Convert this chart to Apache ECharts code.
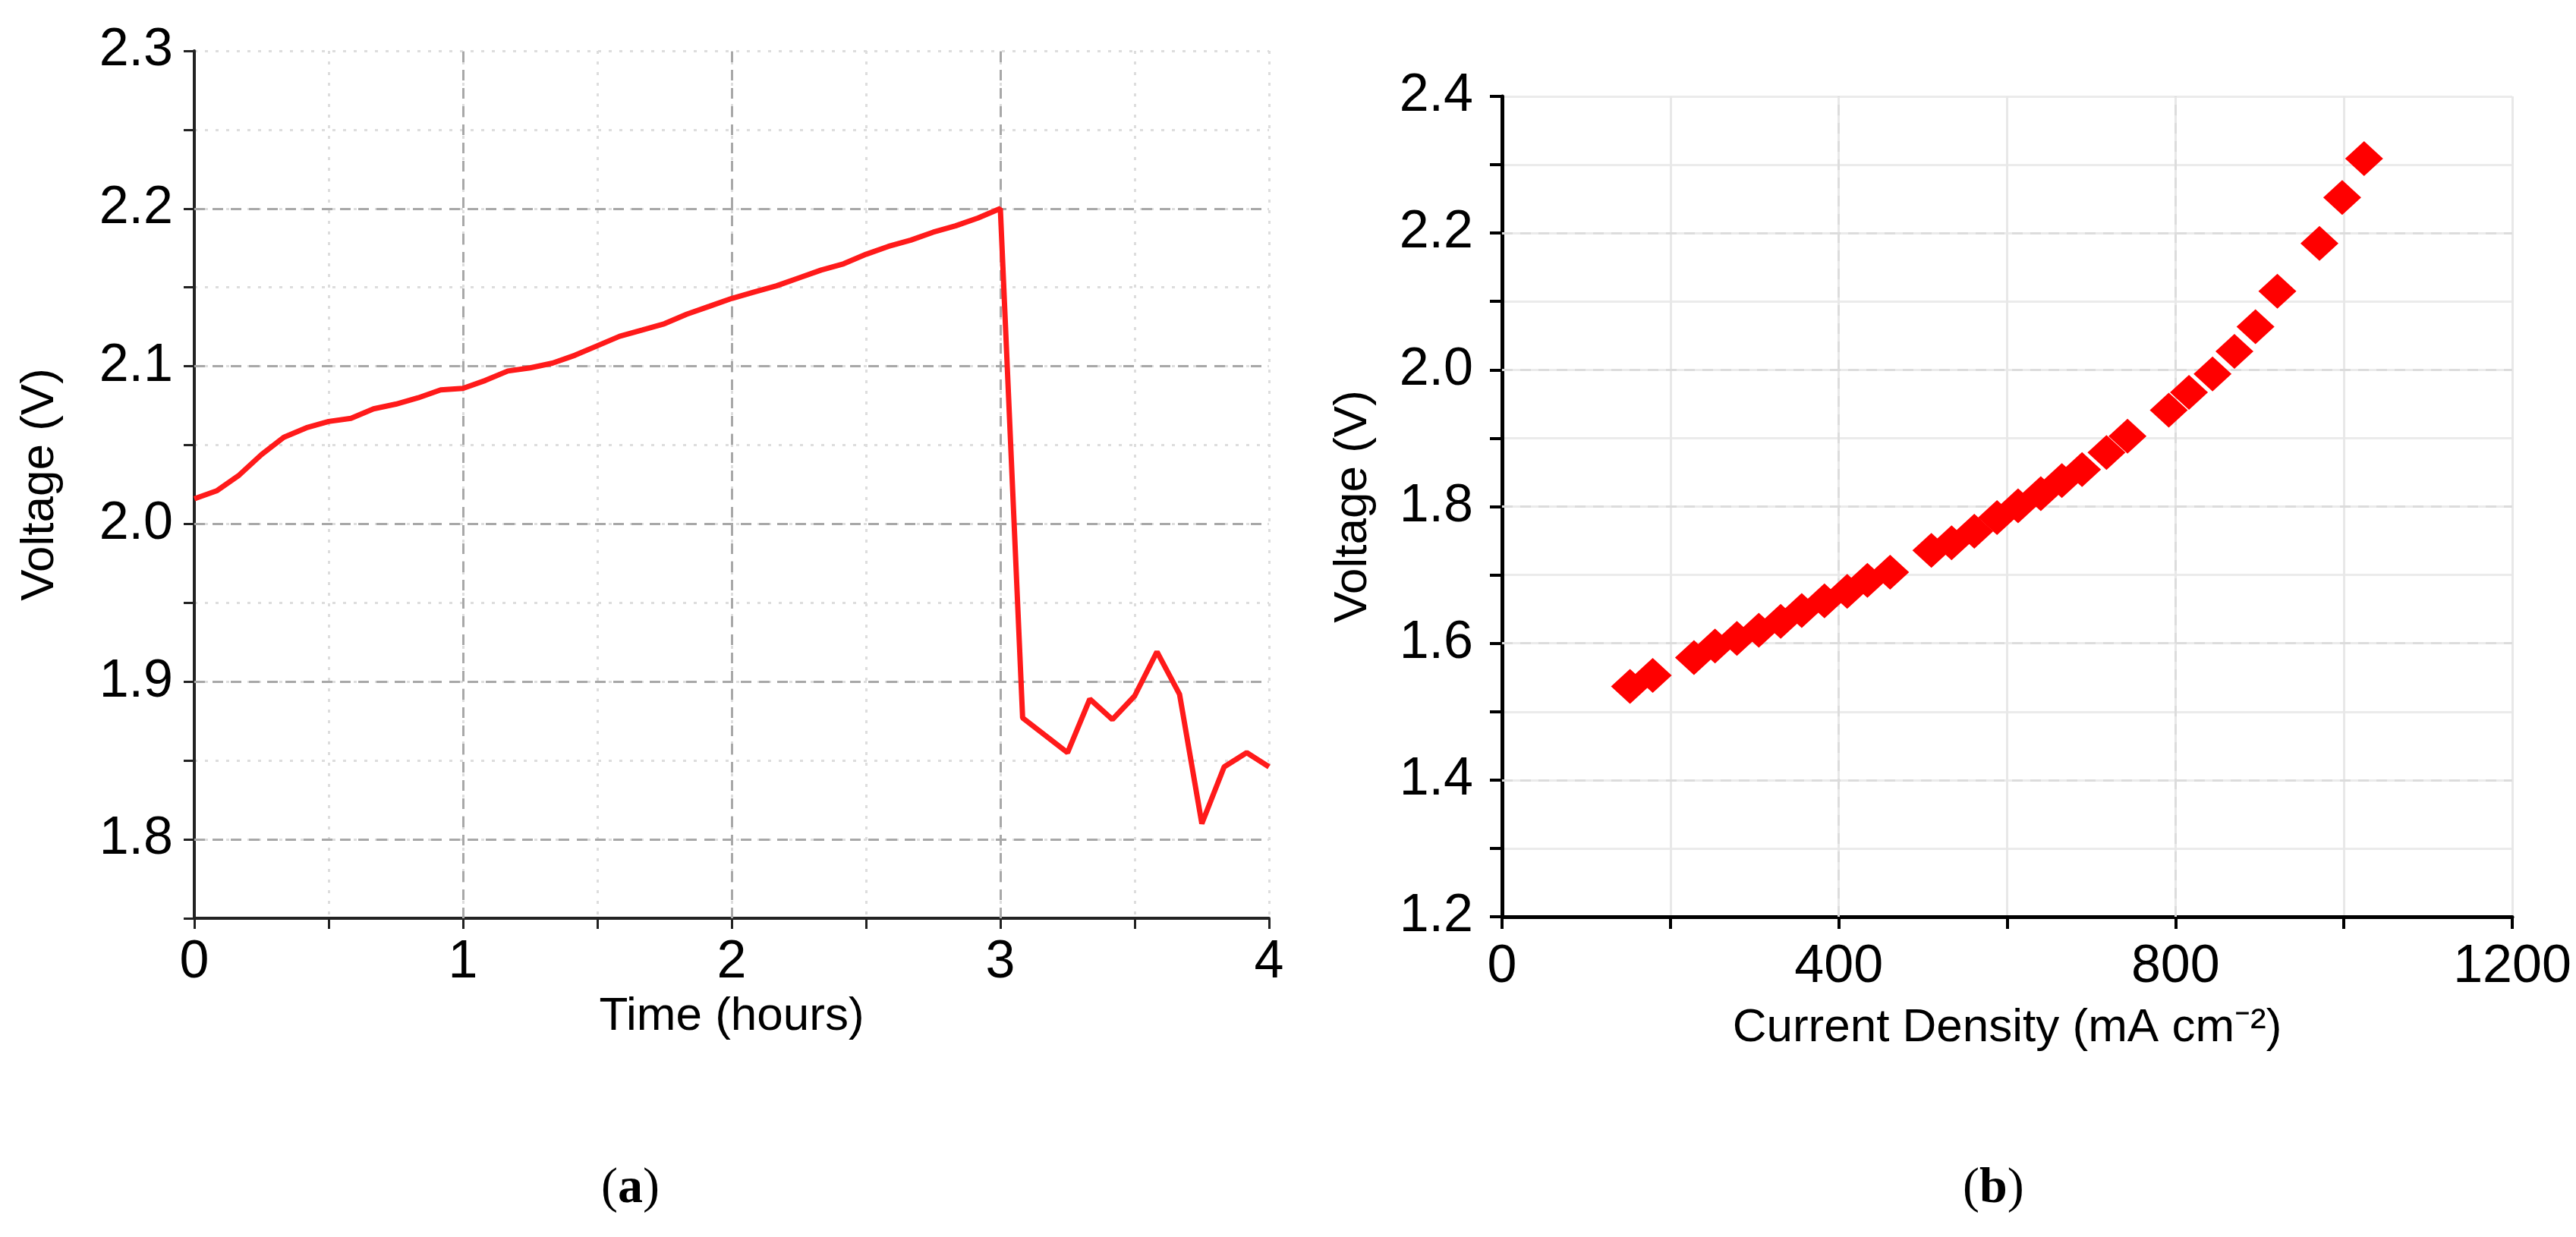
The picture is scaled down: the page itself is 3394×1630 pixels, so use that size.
<!DOCTYPE html>
<html><head><meta charset="utf-8">
<script src="https://cdn.jsdelivr.net/npm/echarts@6/dist/echarts.min.js"></script>
<style>html,body{margin:0;padding:0;background:#fff}#c{width:3394px;height:1630px}</style>
</head><body><div id="c"></div>
<script>
const timeHours = [0,0.083,0.167,0.25,0.333,0.417,0.5,0.583,0.667,0.75,0.833,0.917,1.0,1.083,1.167,1.25,1.333,1.417,1.5,1.583,1.667,1.75,1.833,1.917,2.0,2.083,2.167,2.25,2.333,2.417,2.5,2.583,2.667,2.75,2.833,2.917,3.0,3.083,3.167,3.25,3.333,3.417,3.5,3.583,3.667,3.75,3.833,3.917,4.0];
const voltageA = [2.016,2.021,2.031,2.044,2.055,2.061,2.065,2.067,2.073,2.076,2.080,2.085,2.086,2.091,2.097,2.099,2.102,2.107,2.113,2.119,2.123,2.127,2.133,2.138,2.143,2.147,2.151,2.156,2.161,2.165,2.171,2.176,2.180,2.185,2.189,2.194,2.200,1.877,1.866,1.855,1.889,1.876,1.891,1.919,1.892,1.810,1.846,1.855,1.846];
const currentDensity = [152,179,228,253,279,305,331,356,383,410,434,461,510,534,561,588,613,640,665,689,718,743,792,816,844,870,895,921,971,998,1024];
const voltageB = [1.537,1.553,1.579,1.596,1.607,1.619,1.632,1.648,1.662,1.676,1.692,1.704,1.736,1.747,1.764,1.784,1.801,1.819,1.838,1.854,1.879,1.903,1.941,1.967,1.994,2.027,2.063,2.115,2.185,2.252,2.309];
const majorXA = [1,2,3], majorYA = [1.8,1.9,2.0,2.1,2.2];
const majorXB = [400,800], majorYB = [1.4,1.6,1.8,2.0,2.2];

const F = 'Liberation Sans, Arial, sans-serif';
const tick = {fontSize:70, fontFamily:F, color:'#000'};
const isTenth = v => Math.abs(v*10-Math.round(v*10))<1e-6;
function ml(xs, ys, color){
  return {silent:true, symbol:'none', label:{show:false},
    lineStyle:{color:color, type:[14,10], width:3},
    data: xs.map(x=>({xAxis:x})).concat(ys.map(y=>({yAxis:y})))};
}
const chart = echarts.init(document.getElementById('c'));
const capRich = {b:{font:'bold 66px Liberation Serif, serif', fill:'#000'}, n:{font:'66px Liberation Serif, serif', fill:'#000'}};
chart.setOption({
  animation:false,
  grid:[
    {left:256, right:1722, top:67, bottom:420},
    {left:1979, right:84, top:127, bottom:422}
  ],
  xAxis:[
    {gridIndex:0, type:'value', min:0, max:4, interval:0.5,
     name:'Time (hours)', nameLocation:'middle', nameGap:98,
     nameTextStyle:{fontSize:62, fontFamily:F, color:'#000'},
     axisLine:{lineStyle:{color:'#222', width:4}},
     axisTick:{length:14, lineStyle:{color:'#222', width:3}},
     axisLabel:{...tick, margin:24, formatter:v=>Number.isInteger(v)?String(v):''},
     splitLine:{show:true, lineStyle:{color:'#ddd', type:[4,10], width:3}}},
    {gridIndex:1, type:'value', min:0, max:1200, interval:200,
     name:'Current Density (mA cm⁻²)', nameLocation:'middle', nameGap:116,
     nameTextStyle:{fontSize:62, fontFamily:F, color:'#000'},
     axisLine:{lineStyle:{color:'#000', width:5}},
     axisTick:{length:16, lineStyle:{color:'#000', width:4}},
     axisLabel:{...tick, margin:32, formatter:v=>v%400===0?String(v):''},
     splitLine:{show:true, lineStyle:{color:'#e8e8e8', width:3}}}
  ],
  yAxis:[
    {gridIndex:0, type:'value', min:1.75, max:2.3, interval:0.05,
     name:'Voltage (V)', nameLocation:'middle', nameGap:172,
     nameTextStyle:{fontSize:62, fontFamily:F, color:'#000'},
     axisLine:{show:true, lineStyle:{color:'#222', width:4}},
     axisTick:{show:true, length:14, lineStyle:{color:'#222', width:3}},
     axisLabel:{...tick, margin:28, formatter:v=>isTenth(v)&&v>1.76?v.toFixed(1):''},
     splitLine:{show:true, lineStyle:{color:'#ddd', type:[4,10], width:3}}},
    {gridIndex:1, type:'value', min:1.2, max:2.4, interval:0.1,
     name:'Voltage (V)', nameLocation:'middle', nameGap:165,
     nameTextStyle:{fontSize:62, fontFamily:F, color:'#000'},
     axisLine:{show:true, lineStyle:{color:'#000', width:5}},
     axisTick:{show:true, length:16, lineStyle:{color:'#000', width:4}},
     axisLabel:{...tick, margin:38, formatter:v=>(Math.round(v*10)%2===0)?v.toFixed(1):''},
     splitLine:{show:true, lineStyle:{color:'#ebebeb', width:3}}}
  ],
  series:[
    {type:'line', xAxisIndex:0, yAxisIndex:0, data:timeHours.map((t,i)=>[t,voltageA[i]]),
     showSymbol:false, lineStyle:{color:'#ff1a1a', width:7}, markLine:ml(majorXA, majorYA, '#a8a8a8'), z:5},
    {type:'scatter', xAxisIndex:1, yAxisIndex:1, data:currentDensity.map((c,i)=>[c,voltageB[i]]),
     symbol:'diamond', symbolSize:[50,46], itemStyle:{color:'#ff0000', opacity:1}, markLine:ml(majorXB, majorYB, '#dcdcdc'), z:5}
  ],
  graphic:[
    {type:'text', left:792, top:1534, style:{text:'{n|(}{b|a}{n|)}', rich:capRich}},
    {type:'text', left:2586, top:1534, style:{text:'{n|(}{b|b}{n|)}', rich:capRich}}
  ]
});
</script></body></html>
